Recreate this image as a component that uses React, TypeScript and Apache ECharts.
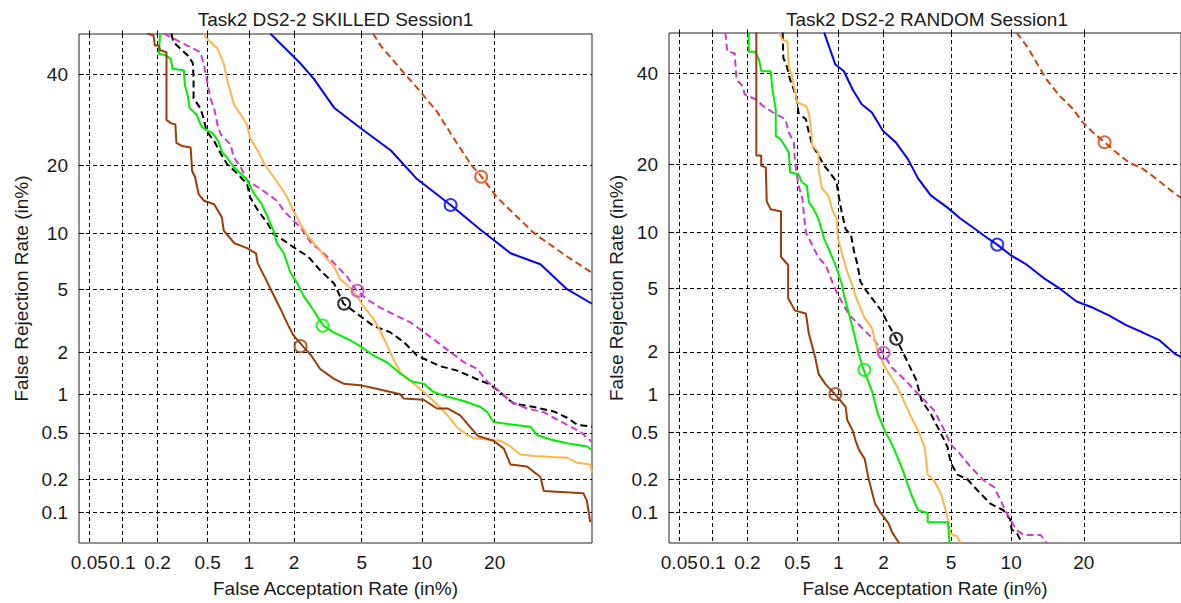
import React, { useEffect, useRef } from "react";
import * as echarts from "echarts";

// ---------------- data (percent values) ----------------
const xTickLabels = ["0.05", "0.1", "0.2", "0.5", "1", "2", "5", "10", "20"];
const yTickLabels = ["0.1", "0.2", "0.5", "1", "2", "5", "10", "20", "40"];
const xRange = [0.04, 40];
const yRange = [0.05, 50.4];

// SKILLED panel curves [FA %, FR %]
const skBlue = [[1.4, 50.5], [2.2, 42.8], [2.65, 39], [3.5, 32], [4.9, 27.5], [7.1, 22.8], [9.5, 17.6], [13.4, 13.6], [17.7, 10.4], [22.8, 7.9], [28.6, 6.9], [34.3, 5], [40, 4.1]];
const skBlueEer = [13.4, 13.6];
const skRed = [[5.75, 50.5], [6.3, 47.4], [7.9, 41.5], [9.85, 35.8], [11.7, 31.1], [13.8, 25.3], [16.2, 20.2], [17.7, 18.2], [20.4, 14.7], [23.4, 12.4], [27.3, 10], [31.4, 8.5], [34.3, 7.6], [40, 6.2]];
const skRedEer = [17.8, 18.0];
const skBlack = [[0.26, 50.5], [0.27, 48.3], [0.35, 44.9], [0.385, 42.9], [0.39, 39], [0.39, 34.2], [0.44, 31.9], [0.466, 29.6], [0.49, 26.8], [0.56, 24.7], [0.63, 22.1], [0.7, 20.2], [0.83, 18.5], [0.97, 16.8], [1.02, 14.7], [1.15, 12.9], [1.35, 11.1], [1.47, 9.9], [1.72, 9.2], [1.98, 8.5], [2.45, 7.6], [2.9, 6.4], [3.5, 5.4], [3.97, 4.1], [4.9, 3.45], [5.8, 2.98], [7.0, 2.73], [8.2, 2.35], [9.5, 1.9], [10.6, 1.76], [12.1, 1.6], [14.3, 1.49], [16.7, 1.32], [19.3, 1.18], [21.6, 0.98], [23.4, 0.85], [27.3, 0.8], [31.4, 0.74], [34.3, 0.66], [36.6, 0.58], [40, 0.56]];
const skBlackEer = [4.0, 4.1];
const skMagenta = [[0.226, 50.5], [0.257, 49.6], [0.348, 47.4], [0.44, 45.7], [0.467, 42.8], [0.494, 38.6], [0.525, 34.2], [0.56, 31.9], [0.6, 27.5], [0.63, 26], [0.74, 24], [0.78, 21.5], [0.88, 19.6], [0.97, 17.4], [1.15, 16.3], [1.35, 15.2], [1.55, 14.2], [1.72, 12.8], [1.98, 11.5], [2.2, 10.7], [2.56, 8.9], [2.9, 8.2], [3.5, 7], [4.15, 5.9], [4.7, 4.9], [5.35, 4.35], [6.3, 3.87], [7.6, 3.45], [8.9, 3.13], [10.2, 2.73], [11.7, 2.35], [13.4, 2.0], [15.2, 1.71], [17.2, 1.53], [18.8, 1.24], [21, 1.04], [22.8, 0.88], [25.9, 0.78], [29.3, 0.73], [31.4, 0.66], [34.3, 0.58], [37.3, 0.51], [40, 0.42]];
const skMagentaEer = [4.75, 4.9];
const skOrange = [[0.467, 50.5], [0.48, 49.6], [0.594, 46.6], [0.66, 42.8], [0.695, 39], [0.74, 35.8], [0.785, 32.7], [0.88, 30.3], [0.97, 28.2], [1.02, 25.3], [1.15, 22.8], [1.28, 20.2], [1.47, 18], [1.64, 16.3], [1.81, 14.7], [1.98, 12.8], [2.2, 11.1], [2.45, 9.6], [2.8, 8.5], [3.2, 7.3], [3.5, 6.7], [3.8, 5.7], [4.35, 5.07], [4.72, 4.55], [5.12, 3.95], [5.8, 3.3], [6.3, 2.73], [6.8, 2.22], [7.3, 1.8], [7.9, 1.45], [8.9, 1.25], [10.2, 1.04], [11.7, 0.84], [13, 0.69], [14.3, 0.55], [15.7, 0.48], [16.7, 0.45], [21, 0.43], [22.8, 0.385], [24.6, 0.33], [27.3, 0.32], [34.3, 0.31], [36.6, 0.28], [39.6, 0.27], [40, 0.23]];
const skGreen = [[0.21, 50.5], [0.205, 45.3], [0.234, 44.9], [0.257, 44], [0.265, 41.5], [0.327, 41.1], [0.333, 37.4], [0.35, 35], [0.363, 31.9], [0.414, 30.3], [0.448, 27.8], [0.48, 27.1], [0.543, 26.4], [0.6, 24.7], [0.645, 22.4], [0.695, 21.5], [0.785, 19.6], [0.88, 18.5], [0.97, 17.4], [1.09, 15.2], [1.22, 13.8], [1.35, 11.9], [1.47, 10.3], [1.55, 8.9], [1.72, 7.9], [1.9, 6.2], [2.1, 5.4], [2.3, 4.55], [2.55, 3.95], [2.78, 3.45], [3.03, 3.0], [3.5, 2.7], [4.35, 2.4], [4.9, 2.2], [5.8, 1.9], [6.8, 1.7], [7.9, 1.42], [8.9, 1.25], [10.2, 1.2], [11.3, 1.04], [13, 0.96], [15.2, 0.89], [17.7, 0.8], [18.8, 0.73], [19.8, 0.61], [23.4, 0.58], [26.6, 0.56], [27.9, 0.48], [30.7, 0.44], [34.3, 0.41], [38.9, 0.385], [40, 0.36]];
const skGreenEer = [3.0, 3.0];
const skBrown = [[0.163, 50.5], [0.185, 50], [0.19, 47.4], [0.205, 47.4], [0.21, 46.2], [0.237, 45.7], [0.237, 29.2], [0.257, 28.5], [0.28, 28.2], [0.285, 24.3], [0.316, 23.7], [0.37, 23.4], [0.38, 19], [0.4, 18], [0.427, 15.2], [0.47, 14.2], [0.56, 13.7], [0.64, 11.9], [0.66, 10.3], [0.79, 8.9], [0.97, 8.4], [1.12, 7.9], [1.15, 7], [1.28, 5.9], [1.41, 5], [1.64, 3.8], [1.81, 3.1], [1.98, 2.6], [2.27, 2.2], [2.56, 1.9], [2.9, 1.53], [3.5, 1.3], [3.97, 1.2], [4.9, 1.17], [6.0, 1.1], [7.9, 1.0], [8.2, 0.93], [10.2, 0.91], [11.7, 0.78], [13, 0.78], [14.7, 0.69], [16.2, 0.55], [17.3, 0.47], [19.8, 0.43], [21.6, 0.37], [22.8, 0.27], [25.9, 0.26], [28.6, 0.21], [29.3, 0.157], [38, 0.15], [38.8, 0.128], [39.6, 0.08]];
const skBrownEer = [2.2, 2.2];

// RANDOM panel curves [FA %, FR %]
const rdBlue = [[0.79, 50.5], [0.95, 42.3], [1.09, 40.6], [1.25, 36.1], [1.44, 32.6], [1.68, 30.7], [1.98, 26.7], [2.38, 24.3], [2.83, 21], [3.25, 17.6], [3.85, 14.9], [4.8, 13.1], [5.6, 11.7], [6.6, 10.5], [7.7, 9.4], [8.6, 8.7], [9.9, 7.7], [11.8, 6.8], [13.9, 5.75], [16.2, 5], [18.8, 4.2], [21.6, 3.85], [24.6, 3.45], [27.9, 3.0], [31.3, 2.7], [35, 2.4], [38.7, 1.93], [40, 1.85]];
const rdBlueEer = [8.6, 8.7];
const rdRed = [[10.6, 50.5], [11.8, 46.9], [13, 42.7], [14.3, 38.5], [16.2, 34.5], [18.3, 31.4], [19.8, 28.5], [21.6, 26.3], [23.7, 24.3], [25.9, 22.3], [28.5, 20.4], [31.3, 19.3], [34.2, 17.6], [37.2, 15.9], [40, 14.5]];
const rdRedEer = [23.7, 24.3];
const rdBlack = [[0.385, 50.5], [0.39, 44], [0.415, 41.8], [0.44, 38.5], [0.47, 36.1], [0.5, 33], [0.51, 30.6], [0.58, 29.2], [0.61, 26.3], [0.65, 23.6], [0.72, 21.7], [0.79, 19.8], [0.86, 18.7], [0.97, 17], [0.99, 15.4], [1.05, 12.6], [1.12, 10.4], [1.22, 9.7], [1.28, 8], [1.35, 6.8], [1.41, 5.5], [1.51, 5], [1.68, 4.4], [1.94, 3.68], [2.15, 3.02], [2.38, 2.5], [2.62, 2.02], [2.86, 1.64], [3.17, 1.27], [3.4, 0.9], [3.86, 0.7], [4.4, 0.49], [4.78, 0.38], [4.97, 0.28], [5.4, 0.22], [6.1, 0.2], [6.85, 0.16], [7.96, 0.12], [9.2, 0.104], [9.9, 0.085], [10.05, 0.068], [10.6, 0.063], [11.2, 0.05]];
const rdBlackEer = [2.4, 2.45];
const rdMagenta = [[0.13, 50.5], [0.135, 45.6], [0.156, 45.2], [0.162, 38.5], [0.183, 36.9], [0.19, 34.9], [0.237, 33.7], [0.268, 32.2], [0.34, 30.3], [0.405, 29.2], [0.43, 26.3], [0.47, 24.3], [0.48, 20.4], [0.51, 16.5], [0.545, 14.4], [0.58, 10], [0.65, 8.6], [0.72, 7.4], [0.81, 6.8], [0.9, 5.5], [0.99, 4.6], [1.18, 3.5], [1.44, 2.9], [1.76, 2.37], [1.98, 1.97], [2.26, 1.55], [2.72, 1.27], [3.25, 1.0], [3.4, 0.95], [4.02, 0.75], [4.6, 0.52], [4.97, 0.4], [5.6, 0.33], [6.3, 0.26], [7.4, 0.195], [8.3, 0.17], [8.9, 0.13], [9.55, 0.097], [10.6, 0.067], [11.4, 0.06], [13.5, 0.06], [14.3, 0.05]];
const rdMagentaEer = [2.0, 1.97];
const rdOrange = [[0.36, 50.5], [0.385, 48.6], [0.42, 48.2], [0.43, 41.8], [0.455, 39.3], [0.47, 37], [0.5, 33], [0.58, 32.2], [0.61, 30.6], [0.63, 27.7], [0.65, 23.6], [0.72, 22.3], [0.72, 19.2], [0.76, 16], [0.85, 14.8], [0.9, 12.9], [0.97, 11.6], [0.99, 9.3], [1.08, 7.35], [1.15, 6.2], [1.27, 5], [1.3, 4.6], [1.5, 3.35], [1.68, 2.88], [1.84, 2.0], [2.02, 1.6], [2.24, 1.33], [2.45, 1.12], [2.67, 0.89], [2.95, 0.67], [3.25, 0.52], [3.55, 0.38], [3.7, 0.22], [4.02, 0.195], [4.4, 0.148], [4.78, 0.09], [4.97, 0.062], [5.4, 0.058], [5.6, 0.05]];
const rdGreen = [[0.205, 50.5], [0.205, 45.6], [0.23, 45.6], [0.25, 43.5], [0.26, 40.6], [0.31, 40.6], [0.32, 36.1], [0.34, 31.4], [0.34, 25.6], [0.37, 24.9], [0.4, 23.6], [0.43, 22.3], [0.44, 18.6], [0.51, 18.3], [0.54, 17], [0.59, 16.4], [0.61, 13.9], [0.66, 13], [0.72, 11.6], [0.79, 9.3], [0.85, 8.3], [0.95, 6.8], [1.06, 5.25], [1.09, 4.6], [1.25, 2.9], [1.38, 1.92], [1.48, 1.51], [1.68, 1.06], [1.84, 0.7], [2.03, 0.52], [2.26, 0.4], [2.55, 0.27], [2.72, 0.21], [2.95, 0.148], [3.25, 0.104], [3.7, 0.098], [3.7, 0.08], [4.8, 0.08], [4.9, 0.05]];
const rdGreenEer = [1.5, 1.5];
const rdBrown = [[0.237, 50.5], [0.237, 21.7], [0.26, 21.7], [0.26, 19.8], [0.283, 19.5], [0.288, 14], [0.31, 12.9], [0.374, 12.6], [0.374, 7.5], [0.405, 7.05], [0.425, 6.8], [0.425, 4.4], [0.48, 3.7], [0.58, 3.55], [0.61, 2.65], [0.68, 1.83], [0.72, 1.4], [0.81, 1.18], [0.9, 1.05], [0.99, 0.94], [1.12, 0.8], [1.15, 0.63], [1.25, 0.52], [1.31, 0.43], [1.38, 0.36], [1.51, 0.3], [1.59, 0.21], [1.67, 0.16], [1.76, 0.12], [1.93, 0.097], [2.15, 0.078], [2.26, 0.064], [2.5, 0.05]];
const rdBrownEer = [0.95, 1.0];

// ---------------- normal-deviate scale ----------------
function probit(p: number): number {
  const a = [-3.969683028665376e1, 2.209460984245205e2, -2.759285104469687e2, 1.38357751867269e2, -3.066479806614716e1, 2.506628277459239];
  const b = [-5.447609879822406e1, 1.615858368580409e2, -1.556989798598866e2, 6.680131188771972e1, -1.328068155288572e1];
  const c = [-7.784894002430293e-3, -3.223964580411365e-1, -2.400758277161838, -2.549671010229583, 4.374664141464968, 2.938163982698783];
  const d = [7.784695709041462e-3, 3.224671290700398e-1, 2.445134137142996, 3.754408661907416];
  const plow = 0.02425;
  if (p < plow) {
    const q = Math.sqrt(-2 * Math.log(p));
    return (((((c[0] * q + c[1]) * q + c[2]) * q + c[3]) * q + c[4]) * q + c[5]) / ((((d[0] * q + d[1]) * q + d[2]) * q + d[3]) * q + 1);
  }
  if (p <= 1 - plow) {
    const q = p - 0.5;
    const r = q * q;
    return ((((((a[0] * r + a[1]) * r + a[2]) * r + a[3]) * r + a[4]) * r + a[5]) * q) / (((((b[0] * r + b[1]) * r + b[2]) * r + b[3]) * r + b[4]) * r + 1);
  }
  const q = Math.sqrt(-2 * Math.log(1 - p));
  return -(((((c[0] * q + c[1]) * q + c[2]) * q + c[3]) * q + c[4]) * q + c[5]) / ((((d[0] * q + d[1]) * q + d[2]) * q + d[3]) * q + 1);
}
const toZ = (pct: number) => probit(pct / 100);

const FONT = "'Liberation Sans', Arial, Helvetica, sans-serif";
const TEXT = "#1a1a1a";
const COL = {
  blue: "#0000ff",
  red: "#d4420c",
  black: "#000000",
  magenta: "#cc3ccc",
  orange: "#ffb54c",
  green: "#00ee00",
  brown: "#9c3c08",
};
const DASH = [7, 4];

type Curve = { data: number[][]; eer?: number[]; color: string; dashed: boolean };

const skilledCurves: Curve[] = [
  { data: skBlue, eer: skBlueEer, color: COL.blue, dashed: false },
  { data: skRed, eer: skRedEer, color: COL.red, dashed: true },
  { data: skBlack, eer: skBlackEer, color: COL.black, dashed: true },
  { data: skMagenta, eer: skMagentaEer, color: COL.magenta, dashed: true },
  { data: skOrange, color: COL.orange, dashed: false },
  { data: skGreen, eer: skGreenEer, color: COL.green, dashed: false },
  { data: skBrown, eer: skBrownEer, color: COL.brown, dashed: false },
];
const randomCurves: Curve[] = [
  { data: rdBlue, eer: rdBlueEer, color: COL.blue, dashed: false },
  { data: rdRed, eer: rdRedEer, color: COL.red, dashed: true },
  { data: rdBlack, eer: rdBlackEer, color: COL.black, dashed: true },
  { data: rdMagenta, eer: rdMagentaEer, color: COL.magenta, dashed: true },
  { data: rdOrange, color: COL.orange, dashed: false },
  { data: rdGreen, eer: rdGreenEer, color: COL.green, dashed: false },
  { data: rdBrown, eer: rdBrownEer, color: COL.brown, dashed: false },
];

const xTickVals = xTickLabels.map((s) => toZ(parseFloat(s)));
const yTickVals = yTickLabels.map((s) => toZ(parseFloat(s)));

const fmt = (vals: number[], labels: string[]) => (v: number) => {
  const i = vals.findIndex((t) => Math.abs(t - v) < 1e-6);
  return i >= 0 ? labels[i] : "";
};

function buildSeries(curves: Curve[], idx: number) {
  const out: any[] = [];
  curves.forEach((c) => {
    out.push({
      type: "line",
      xAxisIndex: idx,
      yAxisIndex: idx,
      data: c.data.map(([x, y]) => [toZ(x), toZ(y)]),
      showSymbol: false,
      symbol: "none",
      silent: true,
      clip: true,
      lineStyle: { color: c.color, width: 2, type: c.dashed ? DASH : "solid" },
      itemStyle: { color: c.color },
      z: 3,
    });
  });
  curves.forEach((c) => {
    if (!c.eer) return;
    out.push({
      type: "scatter",
      xAxisIndex: idx,
      yAxisIndex: idx,
      data: [[toZ(c.eer[0]), toZ(c.eer[1])]],
      symbol: "circle",
      symbolSize: 12,
      silent: true,
      itemStyle: { color: "rgba(0,0,0,0)", borderColor: c.color, borderWidth: 2 },
      z: 4,
    });
  });
  return out;
}

function xAxisFor(gridIndex: number) {
  return {
    type: "value",
    gridIndex,
    min: toZ(xRange[0]),
    max: toZ(xRange[1]),
    name: "False Acceptation Rate (in%)",
    nameLocation: "middle",
    nameGap: 36,
    nameTextStyle: { fontSize: 19, color: TEXT, fontFamily: FONT },
    axisLine: { show: false },
    axisTick: { show: true, inside: true, length: 5, customValues: xTickVals, lineStyle: { color: "#000", width: 1 } },
    axisLabel: { customValues: xTickVals, formatter: fmt(xTickVals, xTickLabels), fontSize: 19, color: TEXT, fontFamily: FONT, margin: 10 },
    splitLine: { show: true, lineStyle: { color: "#000", width: 1, type: [4, 3] } },
  };
}
function yAxisFor(gridIndex: number, nameGap: number) {
  return {
    type: "value",
    gridIndex,
    min: toZ(yRange[0]),
    max: toZ(yRange[1]),
    name: "False Rejection Rate (in%)",
    nameLocation: "middle",
    nameGap,
    nameTextStyle: { fontSize: 19, color: TEXT, fontFamily: FONT },
    axisLine: { show: false },
    axisTick: { show: true, inside: true, length: 5, customValues: yTickVals, lineStyle: { color: "#000", width: 1 } },
    axisLabel: { customValues: yTickVals, formatter: fmt(yTickVals, yTickLabels), fontSize: 19, color: TEXT, fontFamily: FONT, margin: 11 },
    splitLine: { show: true, lineStyle: { color: "#000", width: 1, type: [4, 3] } },
  };
}

export default function App() {
  const ref = useRef<HTMLDivElement>(null);
  useEffect(() => {
    document.body.style.margin = "0";
    if (!ref.current) return;
    const chart = echarts.init(ref.current, null, { renderer: "svg" });
    chart.setOption({
      animation: false,
      backgroundColor: "#ffffff",
      grid: [
        { left: 79, top: 34, width: 513, height: 515, show: true, borderColor: "#222", borderWidth: 1, backgroundColor: "#fff" },
        { left: 669, top: 33, width: 517, height: 514, show: true, borderColor: "#222", borderWidth: 1, backgroundColor: "#fff" },
      ],
      xAxis: [xAxisFor(0), xAxisFor(1)],
      yAxis: [yAxisFor(0, 48), yAxisFor(1, 43)],
      graphic: [
        {
          type: "text",
          x: 335.5,
          y: 19,
          style: { text: "Task2 DS2-2 SKILLED Session1", fill: TEXT, font: `19px ${FONT}`, textAlign: "center", textVerticalAlign: "middle", align: "center", verticalAlign: "middle" },
        },
        {
          type: "text",
          x: 927,
          y: 19,
          style: { text: "Task2 DS2-2 RANDOM Session1", fill: TEXT, font: `19px ${FONT}`, textAlign: "center", textVerticalAlign: "middle", align: "center", verticalAlign: "middle" },
        },
      ],
      series: [...buildSeries(skilledCurves, 0), ...buildSeries(randomCurves, 1)],
    });
    return () => chart.dispose();
  }, []);
  return <div ref={ref} style={{ width: 1181, height: 603 }} />;
}
